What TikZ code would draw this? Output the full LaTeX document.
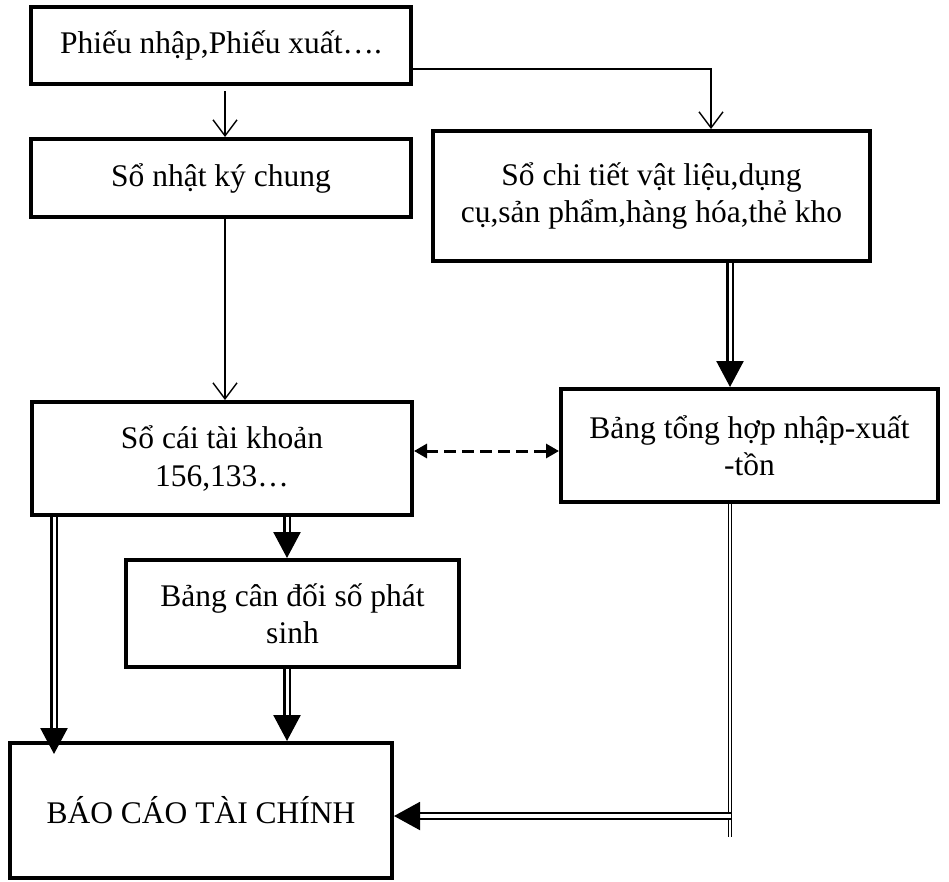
\documentclass[tikz,border=0pt]{standalone}
\usepackage{fontspec}
\setmainfont{Liberation Serif}
\usetikzlibrary{arrows.meta}
\pgfdeclarelayer{background}
\pgfsetlayers{background,main}
\begin{document}
\begin{tikzpicture}[x=1pt,y=-1pt,
  box/.style={draw, line width=4pt, inner sep=0pt, align=center,
    font=\fontsize{31.5}{37.5}\selectfont},
  thinarrow/.style={line width=1.4pt, -{Straight Barb[length=16pt,width=24pt,line width=1.4pt]}},
  dblarrow/.style={line width=2.5pt, double, double distance=3pt,
    -{Triangle[length=26pt,width=27pt]}},
  dblthin/.style={line width=1.3pt, double, double distance=1.8pt},
  dblh/.style={line width=2pt, double, double distance=3.5pt,
    -{Triangle[length=26pt,width=28pt]}},
  dashlink/.style={line width=3pt, dash pattern=on 12pt off 6pt,
    {Triangle[length=13pt,width=14pt]}-{Triangle[length=13pt,width=14pt]}}
]
\useasboundingbox (0,0) rectangle (949,881);

\node[box, minimum width=380pt, minimum height=77pt] (b1) at (221,45.5) {Phiếu nhập,Phiếu xuất….};
\node[box, minimum width=380pt, minimum height=78pt] (b2) at (221,178) {Sổ nhật ký chung};
\node[box, minimum width=437pt, minimum height=130pt] (b3) at (651.5,196) {Sổ chi tiết vật liệu,dụng\\cụ,sản phẩm,hàng hóa,thẻ kho};
\node[box, minimum width=377pt, minimum height=113pt] (b4) at (749.5,445.5) {Bảng tổng hợp nhập-xuất\\-tồn};
\node[box, minimum width=380pt, minimum height=113pt] (b5) at (222,458.5) {Sổ cái tài khoản\\156,133…};
\node[box, minimum width=333pt, minimum height=107pt] (b6) at (292.5,613.5) {Bảng cân đối số phát\\sinh};
\node[box, minimum width=382pt, minimum height=135pt] (b7) at (201,810.5) {BÁO CÁO TÀI CHÍNH};

\coordinate (xa) at (225,0);
\coordinate (r1) at (711,69);
\coordinate (yd) at (0,451);
\coordinate (xc) at (730,0);
\coordinate (xd) at (287,0);
\coordinate (xe) at (54,0);
\coordinate (vend) at (730,837);
\coordinate (hs) at (731,816);

\begin{pgfonlayer}{background}
\draw[thinarrow, shorten <=5pt] (b1.south -| xa) -- (b2.north -| xa);
\draw[thinarrow] (b1.east |- r1) -- (r1) -- (b3.north -| r1);
\draw[thinarrow] (b2.south -| xa) -- (b5.north -| xa);
\draw[dashlink] (b5.east |- yd) -- (b4.west |- yd);
\draw[dblarrow] (b3.south -| xc) -- (b4.north -| xc);
\draw[dblarrow] (b5.south -| xd) -- (b6.north -| xd);
\draw[dblarrow] (b6.south -| xd) -- (b7.north -| xd);
\draw[dblarrow, shorten >=-13pt] (b5.south -| xe) -- (b7.north -| xe);
\draw[dblthin] (b4.south -| xc) -- (vend);
\draw[dblh] (hs) -- (b7.east |- hs);
\end{pgfonlayer}
\end{tikzpicture}
\end{document}
